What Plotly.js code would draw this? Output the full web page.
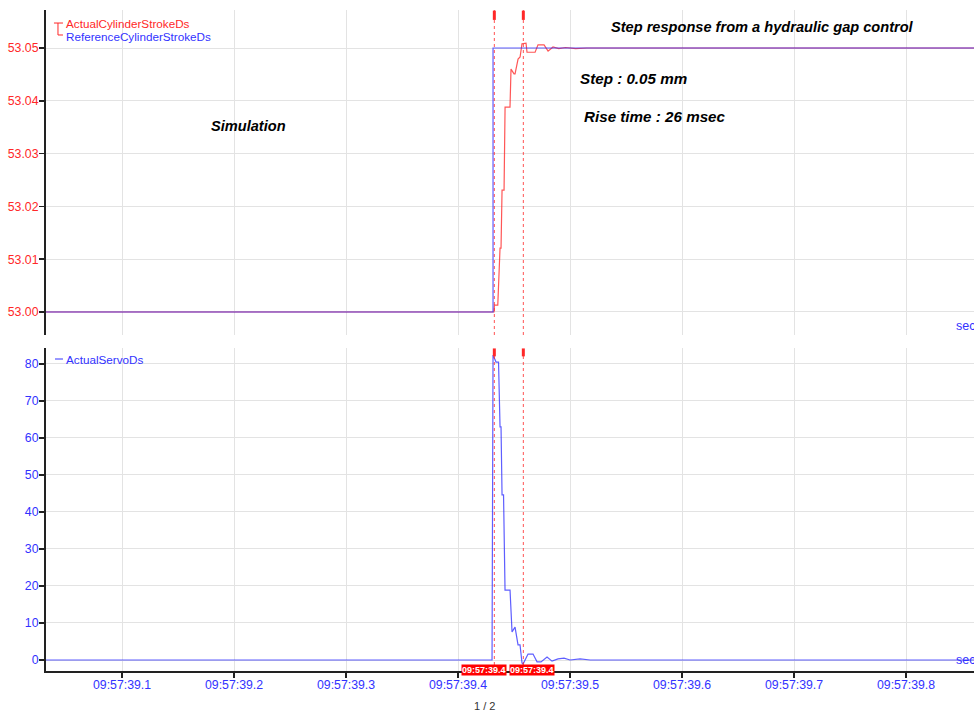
<!DOCTYPE html>
<html>
<head>
<meta charset="utf-8">
<script src="https://cdn.plot.ly/plotly-3.0.1.min.js"></script>
<style>html,body{margin:0;padding:0;background:#fff;}#chart{width:974px;height:711px;}</style>
</head>
<body>
<div id="chart"></div>
<script>
// time axis: seconds after 09:57:39
var tickVals = [0.1, 0.2, 0.3, 0.4, 0.5, 0.6, 0.7, 0.8];
var tickText = ["09:57:39.1", "09:57:39.2", "09:57:39.3", "09:57:39.4", "09:57:39.5", "09:57:39.6", "09:57:39.7", "09:57:39.8"];

// ReferenceCylinderStrokeDs
var refT = [0.032, 0.43125, 0.43125, 0.861];
var refY = [53.000, 53.000, 53.050, 53.050];

// ActualCylinderStrokeDs
var actT = [0.032, 0.4321, 0.4325, 0.4355, 0.4375, 0.4384, 0.4393, 0.4411, 0.4420, 0.4464, 0.4473, 0.4500, 0.4509, 0.4536, 0.4554, 0.4571, 0.4607, 0.4616, 0.4688, 0.4714, 0.4768, 0.4804, 0.4848, 0.4900, 0.4960, 0.5050, 0.5150, 0.861];
var actY = [53.000, 53.000, 53.0013, 53.0013, 53.0121, 53.0121, 53.0231, 53.0231, 53.0388, 53.0388, 53.0460, 53.0451, 53.0451, 53.0479, 53.0483, 53.0508, 53.0509, 53.0492, 53.0492, 53.0506, 53.0506, 53.0494, 53.0502, 53.0499, 53.0501, 53.0499, 53.0500, 53.0500];

// ActualServoDs
var servoT = [0.032, 0.43036, 0.43125, 0.43259, 0.43393, 0.43616, 0.4375, 0.43839, 0.43929, 0.44063, 0.44196, 0.44643, 0.44821, 0.45089, 0.45268, 0.45357, 0.45536, 0.45714, 0.45804, 0.4625, 0.46696, 0.47054, 0.47411, 0.47946, 0.48393, 0.48929, 0.49464, 0.5, 0.50893, 0.518, 0.861];
var servoY = [0, 0, 82.4, 81.6, 80.5, 80.5, 63.0, 63.0, 44.6, 44.6, 18.9, 18.9, 7.6, 8.9, 5.9, 4.1, 4.1, -0.8, -1.1, 1.6, 1.6, -0.5, -0.5, 0.8, -0.3, 0.3, 0.5, 0.0, 0.3, 0, 0];

// cursors
var cursorT = [0.43241, 0.45830];
var cursorLabel = ["09:57:39.4", "09:57:39.4"];
var cursorLabelT = [0.42321, 0.46563];

var RED = "rgb(255,40,40)";
var BLUE = "rgb(50,50,255)";
var FONT = "Liberation Sans, Arial, sans-serif";

var xRange = [0.0321, 0.8607];

var traces = [
  {x: actT, y: actY, xaxis: "x2", yaxis: "y2", mode: "lines", line: {color: "rgba(255,30,30,0.75)", width: 1.2}, name: "ActualCylinderStrokeDs", showlegend: false},
  {x: refT, y: refY, xaxis: "x2", yaxis: "y2", mode: "lines", line: {color: "rgba(40,40,255,0.75)", width: 1.2}, name: "ReferenceCylinderStrokeDs", showlegend: false},
  {x: servoT, y: servoY, xaxis: "x", yaxis: "y", mode: "lines", line: {color: "rgba(40,40,255,0.75)", width: 1.2}, name: "ActualServoDs", showlegend: false}
];

var topDom = [0.5083, 1];
var botDom = [0, 0.4887];

var shapes = [];
var annotations = [];
cursorT.forEach(function (t, i) {
  shapes.push({type: "line", xref: "x", yref: "paper", x0: t, x1: t, y0: topDom[0], y1: topDom[1], line: {color: "rgba(255,40,40,0.8)", width: 1, dash: "dot"}});
  shapes.push({type: "line", xref: "x", yref: "paper", x0: t, x1: t, y0: botDom[0], y1: botDom[1], line: {color: "rgba(255,40,40,0.8)", width: 1, dash: "dot"}});
  shapes.push({type: "line", xref: "x", yref: "paper", x0: t, x1: t, y0: 0.985, y1: 0.999, line: {color: RED, width: 3}});
  shapes.push({type: "line", xref: "x", yref: "paper", x0: t, x1: t, y0: 0.476, y1: 0.488, line: {color: RED, width: 3}});
  annotations.push({xref: "x", yref: "paper", x: cursorLabelT[i], y: 0.0015, text: "<b>" + cursorLabel[i] + "</b>", showarrow: false, font: {family: FONT, size: 9, color: "#fff"}, bgcolor: "rgb(255,0,0)", borderpad: 0, xanchor: "center", yanchor: "middle"});
});

// top legend bracket
shapes.push({type: "line", xref: "paper", yref: "paper", x0: 0.0086, x1: 0.0183, y0: 0.9803, y1: 0.9803, line: {color: RED, width: 1}});
shapes.push({type: "line", xref: "paper", yref: "paper", x0: 0.0129, x1: 0.0129, y0: 0.9803, y1: 0.9622, line: {color: RED, width: 1}});
shapes.push({type: "line", xref: "paper", yref: "paper", x0: 0.0129, x1: 0.0183, y0: 0.9622, y1: 0.9622, line: {color: RED, width: 1}});
// bottom legend line
shapes.push({type: "line", xref: "paper", yref: "paper", x0: 0.0097, x1: 0.0183, y0: 0.4720, y1: 0.4720, line: {color: BLUE, width: 1}});

var legFont = {family: FONT, size: 11.7};
annotations.push({xref: "paper", yref: "paper", x: 0.0194, y: 0.9803, text: "ActualCylinderStrokeDs", showarrow: false, xanchor: "left", yanchor: "middle", font: Object.assign({color: RED}, legFont)});
annotations.push({xref: "paper", yref: "paper", x: 0.0194, y: 0.9606, text: "ReferenceCylinderStrokeDs", showarrow: false, xanchor: "left", yanchor: "middle", font: Object.assign({color: BLUE}, legFont)});
annotations.push({xref: "paper", yref: "paper", x: 0.0194, y: 0.4720, text: "ActualServoDs", showarrow: false, xanchor: "left", yanchor: "middle", font: Object.assign({color: BLUE}, legFont)});

// "sec" unit labels
annotations.push({xref: "paper", yref: "paper", x: 0.9784, y: 0.5226, text: "sec", showarrow: false, xanchor: "left", yanchor: "middle", font: {family: FONT, size: 12.5, color: BLUE}});
annotations.push({xref: "paper", yref: "paper", x: 0.9784, y: 0.0166, text: "sec", showarrow: false, xanchor: "left", yanchor: "middle", font: {family: FONT, size: 12.5, color: BLUE}});

// texts
var bi = {family: FONT, size: 14.6, color: "#000"};
var bi2 = {family: FONT, size: 15.2, color: "#000"};
annotations.push({xref: "paper", yref: "paper", x: 0.7726, y: 0.9743, text: "<b><i>Step response from a hydraulic gap control</i></b>", showarrow: false, xanchor: "center", yanchor: "middle", font: bi});
annotations.push({xref: "paper", yref: "paper", x: 0.6326, y: 0.8971, text: "<b><i>Step : 0.05 mm</i></b>", showarrow: false, xanchor: "center", yanchor: "middle", font: bi2});
annotations.push({xref: "paper", yref: "paper", x: 0.6563, y: 0.8396, text: "<b><i>Rise time : 26 msec</i></b>", showarrow: false, xanchor: "center", yanchor: "middle", font: bi2});
annotations.push({xref: "paper", yref: "paper", x: 0.2177, y: 0.8246, text: "<b><i>Simulation</i></b>", showarrow: false, xanchor: "center", yanchor: "middle", font: bi});
annotations.push({xref: "paper", yref: "paper", x: 0.4720, y: -0.0530, text: "1 / 2", showarrow: false, xanchor: "center", yanchor: "middle", font: {family: FONT, size: 11, color: "#333"}});

var gridC = "#e3e3e3";
var layout = {
  width: 974, height: 711,
  margin: {l: 46, r: 0, t: 10, b: 40},
  paper_bgcolor: "#fff", plot_bgcolor: "#fff",
  showlegend: false,
  font: {family: FONT},
  xaxis: {domain: [0, 1], anchor: "y", range: xRange, tickvals: tickVals, ticktext: tickText, showgrid: true, gridcolor: gridC, gridwidth: 1, zeroline: false, showline: true, linecolor: "#222", linewidth: 2, ticks: "outside", ticklen: 5, tickcolor: "#222", tickwidth: 1.5, ticklabelstandoff: -4, tickfont: {family: FONT, size: 12.3, color: BLUE}},
  xaxis2: {domain: [0, 1], anchor: "y2", matches: "x", range: xRange, tickvals: tickVals, showticklabels: false, showgrid: true, gridcolor: gridC, gridwidth: 1, zeroline: false, showline: false, ticks: ""},
  yaxis: {domain: botDom, anchor: "x", range: [-2.97, 84.3], tickvals: [0, 10, 20, 30, 40, 50, 60, 70, 80], showgrid: true, gridcolor: gridC, zeroline: false, showline: true, linecolor: "#222", linewidth: 2, ticks: "outside", ticklen: 5, tickcolor: "#222", tickwidth: 1.5, ticklabelstandoff: -2, tickfont: {family: FONT, size: 12.3, color: BLUE}},
  yaxis2: {domain: topDom, anchor: "x2", range: [52.99564, 53.0572], tickvals: [53.00, 53.01, 53.02, 53.03, 53.04, 53.05], tickformat: ".2f", showgrid: true, gridcolor: gridC, zeroline: false, showline: true, linecolor: "#222", linewidth: 2, ticks: "outside", ticklen: 5, tickcolor: "#222", tickwidth: 1.5, ticklabelstandoff: -2, tickfont: {family: FONT, size: 12.3, color: RED}},
  shapes: shapes,
  annotations: annotations
};

Plotly.newPlot("chart", traces, layout, {displayModeBar: false, staticPlot: true});
</script>
</body>
</html>
